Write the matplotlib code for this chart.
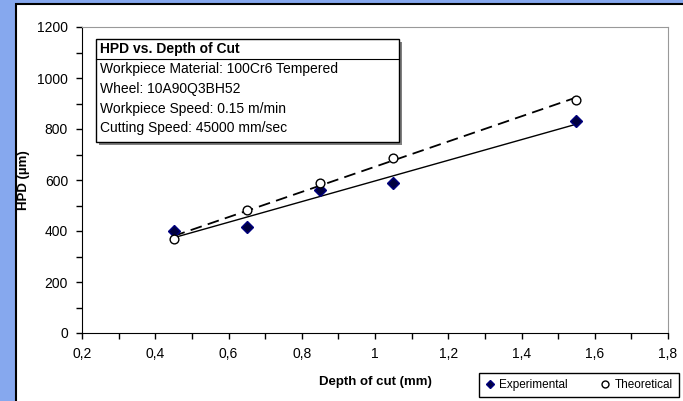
import matplotlib.pyplot as plt
import numpy as np
from matplotlib.patches import Rectangle
from matplotlib.lines import Line2D
from matplotlib.ticker import MultipleLocator, FuncFormatter

plt.rcParams['font.family'] = ['Liberation Sans', 'DejaVu Sans']

# depth of cut (mm) and hardness penetration depth (um)
depth = [0.45, 0.65, 0.85, 1.05, 1.55]
hpd_exp = [400, 417, 561, 590, 831]
hpd_theo = [367, 482, 587, 688, 914]

info_title = "HPD vs. Depth of Cut"
info_lines = ["Workpiece Material: 100Cr6 Tempered",
              "Wheel: 10A90Q3BH52",
              "Workpiece Speed: 0.15 m/min",
              "Cutting Speed: 45000 mm/sec"]

W, H = 683, 401
fig = plt.figure(figsize=(W / 100, H / 100), dpi=100, facecolor='#86a8ee')

def fx(px):
    return px / W

def fy(py):
    return 1 - py / H

# white chart area with dark border
fig.patches.append(Rectangle((fx(16), -0.01), 1.02, fy(4) + 0.01, transform=fig.transFigure,
                             facecolor='white', edgecolor='black', linewidth=1.5, zorder=-1))

ax = fig.add_axes([fx(82), fy(333), fx(668 - 82), (333 - 27) / H])
ax.set_facecolor('white')

# linear trend lines over the measured range
x = np.array(depth)
xx = np.array([min(depth), max(depth)])
k1, b1 = np.polyfit(x, hpd_exp, 1)
k2, b2 = np.polyfit(x, hpd_theo, 1)
ax.plot(xx, k1 * xx + b1, color='black', lw=1, zorder=2)
ax.plot(xx, k2 * xx + b2, color='black', lw=1.3, ls=(0, (6.5, 3.5)), zorder=2)

ax.plot(depth, hpd_exp, ls='none', marker='D', ms=6.3, mfc='#000040', mec='#000080', zorder=3)
ax.plot(depth, hpd_theo, ls='none', marker='o', ms=6.3, mfc='white', mec='black', mew=1, zorder=4)

ax.set_xlim(0.2, 1.8)
ax.set_ylim(0, 1200)
ax.xaxis.set_major_locator(MultipleLocator(0.2))
ax.xaxis.set_minor_locator(MultipleLocator(0.1))
ax.yaxis.set_major_locator(MultipleLocator(200))
ax.yaxis.set_minor_locator(MultipleLocator(100))
ax.xaxis.set_major_formatter(FuncFormatter(lambda v, p: ('%g' % round(v, 1)).replace('.', ',')))
ax.tick_params(which='both', direction='out', length=4, width=1, colors='black', labelsize=10)
ax.tick_params(axis='x', pad=6)
ax.tick_params(axis='y', pad=6)

for s in ['left', 'bottom']:
    ax.spines[s].set_color('black')
for s in ['top', 'right']:
    ax.spines[s].set_color('#999999')

ax.set_xlabel("Depth of cut (mm)", fontsize=9.5, fontweight='bold')
ax.set_ylabel("HPD (µm)", fontsize=9.5, fontweight='bold')
ax.xaxis.set_label_coords(0.5, -(382 - 333) / 306)
ax.yaxis.set_label_coords(-(82 - 24) / 586, 0.5)
ax.xaxis.label.set_va('center')
ax.yaxis.label.set_va('center')

# info box with shadow
bx0, by0, bx1, by1 = 96, 39, 399, 142
fig.patches.append(Rectangle((fx(bx0 + 3), fy(by1 + 3)), fx(bx1 - bx0), (by1 - by0) / H,
                             transform=fig.transFigure, facecolor='#808080', edgecolor='none', zorder=5))
fig.patches.append(Rectangle((fx(bx0), fy(by1)), fx(bx1 - bx0), (by1 - by0) / H,
                             transform=fig.transFigure, facecolor='white', edgecolor='black', lw=1, zorder=6))
fig.lines.append(Line2D([fx(bx0), fx(bx1)], [fy(59), fy(59)], transform=fig.transFigure,
                        color='black', lw=0.8, zorder=7))
fig.text(fx(100), fy(49), info_title, fontsize=10, fontweight='bold', va='center', zorder=8)
for i, line in enumerate(info_lines):
    fig.text(fx(100), fy(69.5 + i * 19.6), line, fontsize=10, va='center', zorder=8)

handles = [Line2D([], [], ls='none', marker='D', ms=4, mfc='#000040', mec='#000080'),
           Line2D([], [], ls='none', marker='o', ms=5, mfc='white', mec='black')]
fig.legend(handles, ['Experimental', 'Theoretical'], loc='lower left',
           bbox_to_anchor=(fx(479), 1 - 397 / H), ncol=2, fontsize=8.5, frameon=True,
           fancybox=False, edgecolor='black', framealpha=1, handlelength=0.8,
           handletextpad=0.4, columnspacing=2.8, borderpad=0.5, borderaxespad=0)

fig.savefig('out.png', dpi=100, facecolor=fig.get_facecolor())
